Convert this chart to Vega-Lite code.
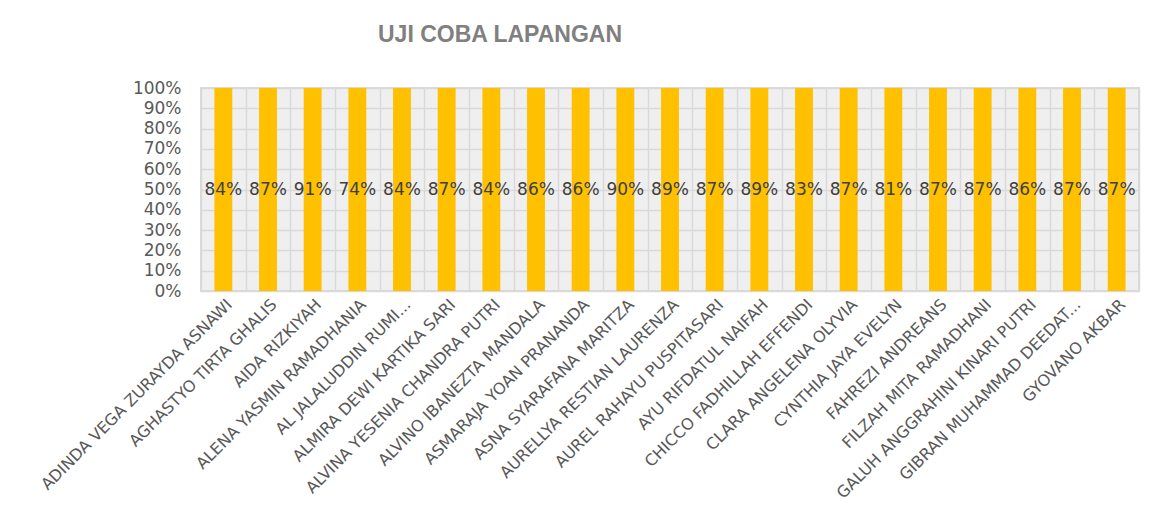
{
  "$schema": "https://vega.github.io/schema/vega-lite/v6.json",
  "autosize": {"type": "none"},
  "width": 938,
  "height": 203,
  "padding": {"left": 201, "top": 88, "right": 21, "bottom": 215},
  "background": "white",
  "title": {
    "text": "UJI COBA LAPANGAN",
    "anchor": "start",
    "frame": "group",
    "dx": 177,
    "offset": 32,
    "font": "Liberation Sans",
    "fontSize": 23,
    "fontWeight": "bold",
    "color": "#808080"
  },
  "data": {
    "values": [
      {"name": "ADINDA VEGA ZURAYDA ASNAWI", "value": 0.84},
      {"name": "AGHASTYO TIRTA GHALIS", "value": 0.87},
      {"name": "AIDA RIZKIYAH", "value": 0.91},
      {"name": "ALENA YASMIN RAMADHANIA", "value": 0.74},
      {"name": "AL JALALUDDIN RUMI...", "value": 0.84},
      {"name": "ALMIRA DEWI KARTIKA SARI", "value": 0.87},
      {"name": "ALVINA YESENIA CHANDRA PUTRI", "value": 0.84},
      {"name": "ALVINO IBANEZTA MANDALA", "value": 0.86},
      {"name": "ASMARAJA YOAN PRANANDA", "value": 0.86},
      {"name": "ASNA SYARAFANA MARITZA", "value": 0.90},
      {"name": "AURELLYA RESTIAN LAURENZA", "value": 0.89},
      {"name": "AUREL RAHAYU PUSPITASARI", "value": 0.87},
      {"name": "AYU RIFDATUL NAIFAH", "value": 0.89},
      {"name": "CHICCO FADHILLAH EFFENDI", "value": 0.83},
      {"name": "CLARA ANGELENA OLYVIA", "value": 0.87},
      {"name": "CYNTHIA JAYA EVELYN", "value": 0.81},
      {"name": "FAHREZI ANDREANS", "value": 0.87},
      {"name": "FILZAH MITA RAMADHANI", "value": 0.87},
      {"name": "GALUH ANGGRAHINI KINARI PUTRI", "value": 0.86},
      {"name": "GIBRAN MUHAMMAD DEEDAT...", "value": 0.87},
      {"name": "GYOVANO AKBAR", "value": 0.87}
    ]
  },
  "encoding": {
    "x": {
      "field": "name",
      "type": "nominal",
      "sort": null,
      "scale": {"paddingInner": 0, "paddingOuter": 0},
      "axis": {"title": null, "labelAngle": -45, "tickBand": "extent"}
    }
  },
  "layer": [
    {
      "mark": {"type": "bar", "color": "#FFC000", "width": {"band": 0.4}},
      "encoding": {
        "y": {
          "field": "value",
          "type": "quantitative",
          "stack": "normalize",
          "scale": {"domain": [0, 1]},
          "axis": {
            "title": null,
            "format": ".0%",
            "values": [0, 0.1, 0.2, 0.3, 0.4, 0.5, 0.6, 0.7, 0.8, 0.9, 1]
          }
        }
      }
    },
    {
      "mark": {"type": "text", "font": "DejaVu Sans", "fontSize": 17, "color": "#404040", "baseline": "middle"},
      "encoding": {
        "y": {"datum": 0.5, "type": "quantitative", "axis": {"title": null, "format": ".0%", "values": [0, 0.1, 0.2, 0.3, 0.4, 0.5, 0.6, 0.7, 0.8, 0.9, 1]}},
        "text": {"field": "value", "type": "quantitative", "format": ".0%"}
      }
    }
  ],
  "config": {
    "view": {"fill": "#efefef", "stroke": "#d9d9d9", "strokeWidth": 2},
    "axisX": {
      "labelFont": "DejaVu Sans",
      "labelFontSize": 16,
      "labelColor": "#595959",
      "labelLimit": 400,
      "labelOverlap": false,
      "labelPadding": 5,
      "ticks": false,
      "domain": false,
      "grid": true,
      "gridColor": "#d9d9d9",
      "gridWidth": 1.5
    },
    "axisY": {
      "labelOverlap": false,
      "labelFont": "DejaVu Sans",
      "labelFontSize": 17,
      "labelColor": "#595959",
      "labelPadding": 20,
      "ticks": false,
      "domain": false,
      "grid": true,
      "gridColor": "#d9d9d9",
      "gridWidth": 1.5
    }
  }
}
